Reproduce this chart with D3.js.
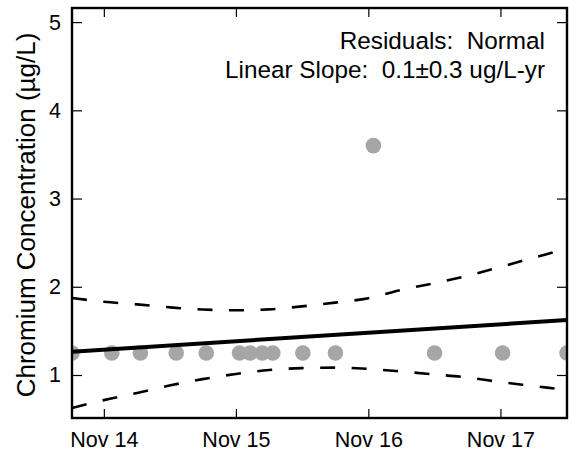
<!DOCTYPE html>
<html lang="en">
<head>
<meta charset="utf-8">
<title>Chromium Concentration</title>
<script src="https://d3js.org/d3.v7.min.js"></script>
<style>
  body { margin: 0; background: #fff; }
  text { font-family: "Liberation Sans", Arial, sans-serif; fill: #000; }
</style>
</head>
<body>
<svg id="chart"></svg>
<script>

    // sample dates and measured values
    const sampleDates = ["2014-08-05", "2014-11-23", "2015-02-10", "2015-05-20", "2015-08-11",
        "2015-11-11", "2015-12-10", "2016-01-13", "2016-02-11", "2016-05-04",
        "2016-08-02", "2016-11-15", "2017-05-03", "2017-11-07", "2018-05-04"];
    const sampleValues = [1.25, 1.25, 1.25, 1.25, 1.25,
        1.25, 1.25, 1.25, 1.25, 1.25,
        1.25, 3.6, 1.25, 1.25, 1.25];

    // linear fit end points
    const fitDates = ["2014-08-05", "2018-05-04"];
    const fitValues = [1.264, 1.623];

    // confidence band
    const bandDates = ["2014-08-05", "2014-11-01", "2015-02-01", "2015-05-01", "2015-08-01",
        "2015-11-01", "2016-02-01", "2016-05-01", "2016-08-01", "2016-11-01",
        "2017-02-01", "2017-05-01", "2017-08-01", "2017-11-01", "2018-02-01", "2018-05-04"];
    const bandUpper = [1.873, 1.83, 1.80, 1.767, 1.742, 1.734, 1.744, 1.778,
        1.82, 1.87, 1.965, 2.04, 2.124, 2.225, 2.33, 2.43];
    const bandLower = [0.626, 0.715, 0.797, 0.88, 0.953, 1.012, 1.056, 1.078,
        1.083, 1.069, 1.04, 1.007, 0.972, 0.92, 0.875, 0.83];

    const xTickDates = ["2014-11-01", "2015-11-01", "2016-11-01", "2017-11-01"];
    const xTickLabels = ["Nov 14", "Nov 15", "Nov 16", "Nov 17"];
    const yTicks = [1, 2, 3, 4, 5];

    const notes = ["Residuals:  Normal", "Linear Slope:  0.1\u00b10.3 ug/L-yr"];
    const yTitle = "Chromium Concentration (\u00b5g/L)";

    let width = 569, height = 451,
        margin = {top: 8, right: 2, bottom: 33, left: 72},
        chartWidth = width - margin.left - margin.right,
        chartHeight = height - margin.top - margin.bottom;

    const parse = d3.timeParse("%Y-%m-%d");

    let svg = d3.select("#chart")
        .attr("width", width)
        .attr("height", height);

    let x = d3.scaleTime()
        .domain([parse(sampleDates[0]), parse(sampleDates[sampleDates.length - 1])])
        .range([0, chartWidth]);
    let y = d3.scaleLinear()
        .domain([0.5125, 5.16])
        .range([chartHeight, 0]);

    svg.append("defs").append("clipPath").attr("id", "clip")
        .append("rect").attr("width", chartWidth).attr("height", chartHeight);

    let chartArea = svg.append("g")
        .attr("transform", `translate(${margin.left},${margin.top})`);

    let plot = chartArea.append("g").attr("clip-path", "url(#clip)");

    let points = sampleDates.map((d, i) => ({date: parse(d), value: sampleValues[i]}));
    plot.selectAll("circle")
        .data(points)
        .enter().append("circle")
            .attr("cx", d => x(d.date))
            .attr("cy", d => y(d.value))
            .attr("r", 7.8)
            .attr("fill", "#a6a6a6");

    let fit = fitDates.map((d, i) => ({date: parse(d), value: fitValues[i]}));
    let line = d3.line().x(d => x(d.date)).y(d => y(d.value));
    plot.append("path")
        .datum(fit)
        .attr("d", line)
        .attr("fill", "none")
        .attr("stroke", "#000")
        .attr("stroke-width", 4);

    let curve = d3.line().curve(d3.curveMonotoneX).x(d => x(d.date)).y(d => y(d.value));
    [bandUpper, bandLower].forEach(vals => {
        let band = bandDates.map((d, i) => ({date: parse(d), value: vals[i]}));
        plot.append("path")
            .datum(band)
            .attr("d", curve)
            .attr("fill", "none")
            .attr("stroke", "#000")
            .attr("stroke-width", 2.6)
            .attr("stroke-dasharray", "15,16.5");
    });

    // axes, ticks pointing inward
    let xTicks = xTickDates.map(parse);
    let xAxis = d3.axisBottom(x).tickValues(xTicks)
        .tickSize(-9).tickPadding(13.4)
        .tickFormat((d, i) => xTickLabels[i]);
    let gx = chartArea.append("g")
        .attr("transform", `translate(0,${chartHeight})`)
        .call(xAxis);
    let gxTop = chartArea.append("g")
        .call(d3.axisTop(x).tickValues(xTicks).tickSize(-9).tickFormat(""));

    let yAxis = d3.axisLeft(y).tickValues(yTicks)
        .tickSize(-10).tickPadding(11)
        .tickFormat(d3.format("d"));
    let gy = chartArea.append("g").call(yAxis);
    let gyRight = chartArea.append("g")
        .attr("transform", `translate(${chartWidth},0)`)
        .call(d3.axisRight(y).tickValues(yTicks).tickSize(-10).tickFormat(""));

    [gx, gxTop, gy, gyRight].forEach(g => {
        g.select(".domain").remove();
        g.selectAll(".tick line").attr("stroke", "#000").attr("stroke-width", 1.2);
        g.selectAll(".tick text").attr("font-size", 21.5)
            .attr("font-family", "Liberation Sans, Arial, sans-serif");
    });

    chartArea.append("rect")
        .attr("width", chartWidth)
        .attr("height", chartHeight)
        .attr("fill", "none")
        .attr("stroke", "#000")
        .attr("stroke-width", 2.4);

    svg.append("text")
        .attr("transform", `translate(35,215) rotate(-90)`)
        .attr("text-anchor", "middle")
        .attr("font-size", 26)
        .text(yTitle);

    chartArea.selectAll(".note")
        .data(notes)
        .enter().append("text")
            .attr("class", "note")
            .attr("x", 545 - margin.left)
            .attr("y", (d, i) => 49 - margin.top + i * 29)
            .attr("text-anchor", "end")
            .attr("font-size", 24.3)
            .style("white-space", "pre")
            .text(d => d);

</script>
</body>
</html>
